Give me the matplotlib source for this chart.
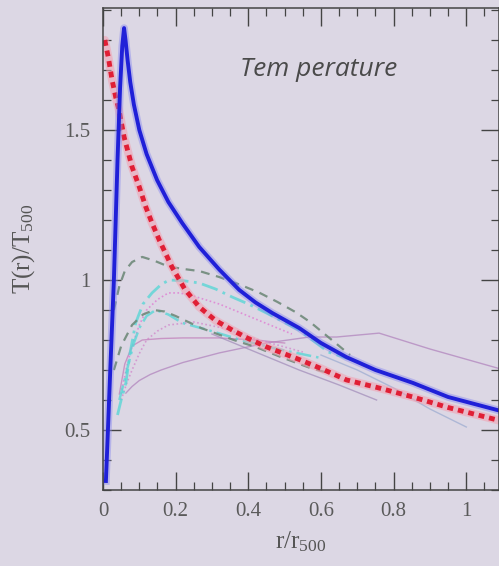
import matplotlib
matplotlib.use("Agg")
import matplotlib.pyplot as plt
from matplotlib.ticker import MultipleLocator

# Mean simulated profile (thick blue) and the universal fit (red dotted)
r_sim = [0.008, 0.012, 0.02, 0.03, 0.04, 0.047, 0.053, 0.058, 0.062, 0.068,
         0.075, 0.085, 0.10, 0.12, 0.149, 0.18, 0.218, 0.265, 0.32, 0.375,
         0.42, 0.466, 0.54, 0.60, 0.67, 0.75, 0.853, 0.95, 1.09]
t_sim = [0.33, 0.45, 0.70, 1.00, 1.40, 1.64, 1.78, 1.84, 1.80, 1.73,
         1.66, 1.585, 1.50, 1.42, 1.333, 1.26, 1.19, 1.11, 1.035, 0.967,
         0.925, 0.89, 0.84, 0.79, 0.743, 0.70, 0.657, 0.61, 0.565]

r_fit = [0.005, 0.015, 0.025, 0.035, 0.044, 0.058, 0.08, 0.10, 0.118, 0.135,
         0.155, 0.19, 0.225, 0.265, 0.31, 0.356, 0.40, 0.45, 0.54, 0.60,
         0.67, 0.76, 0.853, 0.95, 1.09]
t_fit = [1.80, 1.74, 1.667, 1.61, 1.567, 1.477, 1.377, 1.31, 1.243, 1.19,
         1.133, 1.043, 0.97, 0.91, 0.865, 0.833, 0.805, 0.777, 0.735, 0.705,
         0.667, 0.64, 0.61, 0.575, 0.532]

# Observed cluster profiles
r_g1 = [0.03, 0.045, 0.06, 0.08, 0.108, 0.14, 0.18, 0.22, 0.265, 0.32, 0.38,
        0.43, 0.48, 0.53, 0.57, 0.63, 0.68]
t_g1 = [0.90, 0.98, 1.03, 1.06, 1.077, 1.065, 1.045, 1.037, 1.03, 1.01, 0.983,
        0.958, 0.927, 0.893, 0.86, 0.80, 0.75]

r_g2 = [0.03, 0.05, 0.08, 0.11, 0.14, 0.17, 0.20, 0.27, 0.36, 0.42, 0.49,
        0.57, 0.62]
t_g2 = [0.70, 0.78, 0.85, 0.885, 0.90, 0.895, 0.88, 0.84, 0.80, 0.777, 0.743,
        0.707, 0.69]

r_c1 = [0.04, 0.05, 0.063, 0.075, 0.09, 0.11, 0.135, 0.16, 0.182, 0.22, 0.265,
        0.31, 0.356, 0.40, 0.45, 0.54, 0.62, 0.72]
t_c1 = [0.55, 0.60, 0.657, 0.76, 0.857, 0.92, 0.957, 0.985, 1.00, 0.998, 0.99,
        0.97, 0.943, 0.92, 0.89, 0.833, 0.76, 0.72]

r_c2 = [0.045, 0.06, 0.07, 0.085, 0.10, 0.12, 0.145, 0.18, 0.218, 0.29, 0.38,
        0.48, 0.60]
t_c2 = [0.60, 0.67, 0.72, 0.79, 0.84, 0.88, 0.90, 0.885, 0.857, 0.833, 0.80,
        0.77, 0.74]

r_p1 = [0.05, 0.065, 0.08, 0.10, 0.12, 0.15, 0.18, 0.21, 0.24, 0.32, 0.42,
        0.52]
t_p1 = [0.62, 0.71, 0.78, 0.85, 0.90, 0.935, 0.957, 0.957, 0.95, 0.92, 0.87,
        0.82]

r_p2 = [0.05, 0.065, 0.08, 0.10, 0.12, 0.15, 0.18, 0.25, 0.33, 0.43, 0.55]
t_p2 = [0.60, 0.655, 0.70, 0.755, 0.80, 0.83, 0.85, 0.86, 0.84, 0.80, 0.76]

r_p3 = [0.045, 0.06, 0.08, 0.108, 0.16, 0.22, 0.32, 0.42, 0.50]
t_p3 = [0.62, 0.72, 0.78, 0.80, 0.805, 0.807, 0.807, 0.80, 0.79]

r_p4 = [0.063, 0.08, 0.10, 0.13, 0.16, 0.22, 0.32, 0.45, 0.568, 0.643, 0.76,
        0.90, 1.09]
t_p4 = [0.623, 0.645, 0.665, 0.685, 0.70, 0.725, 0.757, 0.79, 0.81, 0.81,
        0.823, 0.77, 0.705]

r_p5 = [0.30, 0.40, 0.54, 0.65, 0.753]
t_p5 = [0.82, 0.77, 0.70, 0.65, 0.60]

r_b1 = [0.60, 0.70, 0.80, 0.90, 1.00]
t_b1 = [0.75, 0.70, 0.64, 0.57, 0.51]

x_ticks = [0, 0.2, 0.4, 0.6, 0.8, 1]
x_ticklabels = ["0", "0.2", "0.4", "0.6", "0.8", "1"]
y_ticks = [0.5, 1, 1.5]
y_ticklabels = ["0.5", "1", "1.5"]

bg = "#dcd7e4"
fig = plt.figure(figsize=(4.99, 5.66), dpi=100, facecolor=bg)
ax = fig.add_axes([0.2064, 0.1343, 0.7936, 0.8516], facecolor=bg)

# thin observed profiles
ax.plot(r_p4, t_p4, color="#b48ac0", lw=1.0, alpha=0.8)
ax.plot(r_p3, t_p3, color="#c07ab8", lw=1.0, alpha=0.7)
ax.plot(r_p5, t_p5, color="#a08ab8", lw=1.0, alpha=0.7)
ax.plot(r_b1, t_b1, color="#9aaad0", lw=1.0, alpha=0.7)
ax.plot(r_p1, t_p1, color="#e070d0", lw=1.2, ls=(0, (1, 1.5)), alpha=0.7)
ax.plot(r_p2, t_p2, color="#d080c8", lw=1.2, ls=(0, (1, 1.5)), alpha=0.7)
ax.plot(r_c1, t_c1, color="#5ad6d6", lw=2.0, ls=(0, (6, 2, 1, 2)), alpha=0.8)
ax.plot(r_c2, t_c2, color="#5ad6d6", lw=1.8, ls=(0, (6, 2, 1, 2)), alpha=0.8)
ax.plot(r_g1, t_g1, color="#6f8a7a", lw=1.6, ls=(0, (4, 3)), alpha=0.9)
ax.plot(r_g2, t_g2, color="#6f8a7a", lw=1.6, ls=(0, (4, 3)), alpha=0.9)

# fit and simulation mean, with a soft halo
ax.plot(r_fit, t_fit, color="#f2a0b0", lw=6, alpha=0.55,
        solid_joinstyle="round", solid_capstyle="round")
ax.plot(r_fit, t_fit, color="#e01f35", lw=3.5, ls=(0, (1.2, 1.0)))
ax.plot(r_sim, t_sim, color="#8888f0", lw=5.5, alpha=0.45,
        solid_joinstyle="round")
ax.plot(r_sim, t_sim, color="#2020d8", lw=2.8, solid_joinstyle="round")

ax.set_xlim(0, 1.09)
ax.set_ylim(0.3, 1.907)
ax.set_xticks(x_ticks)
ax.set_xticklabels(x_ticklabels)
ax.set_yticks(y_ticks)
ax.set_yticklabels(y_ticklabels)
ax.xaxis.set_minor_locator(MultipleLocator(0.05))
ax.yaxis.set_minor_locator(MultipleLocator(0.1))

for lab in ax.get_xticklabels() + ax.get_yticklabels():
    lab.set_fontfamily("Liberation Serif")
    lab.set_fontsize(15)
    lab.set_color("#5a5a5a")

ax.tick_params(which="both", direction="in", top=True, right=True,
               color="#444444")
ax.tick_params(which="major", length=13, width=1.0, pad=9)
ax.tick_params(which="minor", length=6, width=0.9)
for s in ax.spines.values():
    s.set_color("#444444")
    s.set_linewidth(1.1)

ax.set_xlabel(r"$\mathregular{r/r_{500}}$", fontfamily="Liberation Serif",
              fontsize=18, color="#555555", labelpad=6)
ax.set_ylabel(r"$\mathregular{T(r)/T_{500}}$", fontfamily="Liberation Serif",
              fontsize=18, color="#555555", labelpad=20)

ax.text(0.545, 0.872, "Tem perature", transform=ax.transAxes,
        fontfamily="Open Sans", fontstyle="italic", fontweight="normal",
        fontsize=19, color="#4a4a4a", ha="center", va="center")

fig.savefig("out.png", dpi=100, facecolor=bg)
